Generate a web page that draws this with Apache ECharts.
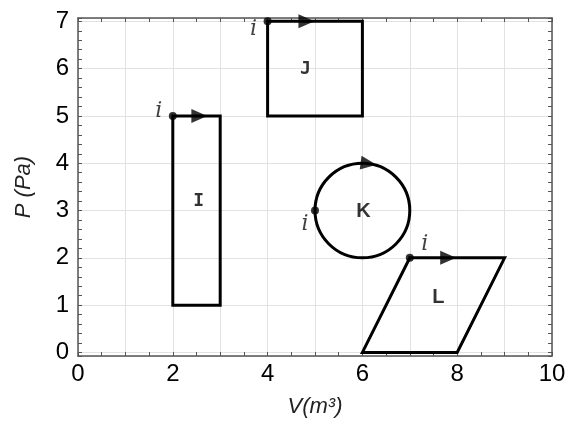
<!DOCTYPE html>
<html>
<head>
<meta charset="utf-8">
<script src="https://cdn.jsdelivr.net/npm/echarts@6/dist/echarts.min.js"></script>
<style>
  html, body { margin: 0; padding: 0; background: #fff; }
  #chart { width: 569px; height: 423px; }
</style>
</head>
<body>
<div id="chart"></div>
<script>
// cycle outlines (V, P), each one closed back to its start
const cycleI = [[2, 5], [3, 5], [3, 1], [2, 1], [2, 5]]
const cycleJ = [[4, 7], [6, 7], [6, 5], [4, 5], [4, 7]]
const cycleL = [[7, 2], [9, 2], [8, 0], [6, 0], [7, 2]]
// circle K: centre V, centre P, radius
const cycleK = [[6, 3, 1]]

// initial states "i"
const startPoints = [[2, 5], [4, 7], [5, 3], [7, 2]]
// direction arrows on each cycle
const arrowPoints = [[2.56, 5], [4.82, 7], [6.13, 3.99], [7.81, 2]]
// cycle names and where they sit
const cycleNames = ['I', 'J', 'K', 'L']
const namePoints = [[2.545, 3.19], [4.8, 5.98], [6.02, 2.99], [7.6, 1.16]]

const xLabels = [0, 2, 4, 6, 8, 10]
const yLabels = [0, 1, 2, 3, 4, 5, 6, 7]

const axisColor = '#555'
const iOffsets = [[-14, -5], [-14, 8], [-10, 14], [15, -14]]
const arrowAngles = [-90, -90, -97.5, -90]
const nameFonts = [
  { fontFamily: 'DejaVu Sans Mono', fontSize: 18 },
  { fontFamily: 'DejaVu Sans Mono', fontSize: 18 },
  { fontFamily: 'Liberation Sans', fontSize: 20 },
  { fontFamily: 'Liberation Sans', fontSize: 20 }
]

const chart = echarts.init(document.getElementById('chart'))

function frameAxis(extra) {
  return Object.assign({
    type: 'value',
    axisLine: { show: true, onZero: false, lineStyle: { color: axisColor, width: 1.5 } },
    axisTick: { show: true, inside: true, length: 4, lineStyle: { color: axisColor } },
    minorTick: { show: true, length: 4, lineStyle: { color: axisColor } },
    splitLine: { show: false },
    axisLabel: { show: false }
  }, extra)
}

const tickFont = { fontFamily: 'Liberation Sans', fontSize: 24, color: '#000' }

function outline(data) {
  return {
    type: 'line', data, symbol: 'none', silent: true, z: 3,
    lineStyle: { color: '#000', width: 3, join: 'miter', cap: 'square' }
  }
}

const option = {
  animation: false,
  grid: { left: 78, right: 17, top: 18, bottom: 65 },
  xAxis: [
    frameAxis({
      position: 'bottom', min: 0, max: 10, interval: 1,
      minorTick: { show: true, splitNumber: 2, length: 4, lineStyle: { color: axisColor } },
      splitLine: { show: true, lineStyle: { color: '#e2e2e2', width: 1 } },
      axisLabel: Object.assign({
        show: true, margin: 6,
        formatter: v => xLabels.includes(v) ? String(v) : ''
      }, tickFont),
      name: 'V(m³)', nameLocation: 'middle', nameGap: 40,
      nameTextStyle: { fontFamily: 'Liberation Sans', fontStyle: 'italic', fontSize: 22, color: '#222' }
    }),
    frameAxis({
      position: 'top', min: 0, max: 10, interval: 1,
      minorTick: { show: true, splitNumber: 2, length: 4, lineStyle: { color: axisColor } }
    })
  ],
  yAxis: [
    frameAxis({
      position: 'left', min: -0.075, max: 7.07, splitNumber: 7,
      minorTick: { show: true, splitNumber: 5, length: 4, lineStyle: { color: axisColor } },
      splitLine: { show: true, lineStyle: { color: '#e2e2e2', width: 1 } },
      axisLabel: Object.assign({
        show: true, margin: 9,
        formatter: v => yLabels.includes(v) ? String(v) : ''
      }, tickFont),
      name: 'P (Pa)', nameLocation: 'middle', nameGap: 43,
      nameTextStyle: { fontFamily: 'Liberation Sans', fontStyle: 'italic', fontSize: 22, color: '#222' }
    }),
    frameAxis({
      position: 'right', min: -0.075, max: 7.07, splitNumber: 7,
      minorTick: { show: true, splitNumber: 5, length: 4, lineStyle: { color: axisColor } }
    })
  ],
  series: [
    outline(cycleI),
    outline(cycleJ),
    outline(cycleL),
    {
      type: 'custom', data: cycleK, silent: true, z: 3,
      encode: { x: 0, y: 1 },
      renderItem(params, api) {
        const c = api.coord([api.value(0), api.value(1)])
        const s = api.size([api.value(2), api.value(2)])
        return {
          type: 'ellipse',
          shape: { cx: c[0], cy: c[1], rx: s[0], ry: s[1] },
          style: { fill: 'none', stroke: '#000', lineWidth: 3 }
        }
      }
    },
    {
      type: 'scatter', silent: true, z: 5,
      symbol: 'circle', symbolSize: 8,
      itemStyle: { color: '#000' },
      data: startPoints.map((p, k) => ({
        value: p,
        label: { offset: iOffsets[k] }
      })),
      label: {
        show: true, position: 'inside', formatter: 'i',
        fontFamily: 'DejaVu Serif', fontStyle: 'italic', fontSize: 22, color: '#111'
      }
    },
    {
      type: 'scatter', silent: true, z: 5,
      symbol: 'triangle', symbolSize: [14, 16],
      itemStyle: { color: '#000' },
      data: arrowPoints.map((p, k) => ({ value: p, symbolRotate: arrowAngles[k] }))
    },
    {
      type: 'scatter', silent: true, z: 4,
      symbolSize: 1,
      itemStyle: { color: 'rgba(0,0,0,0)' },
      data: namePoints.map((p, k) => ({
        value: p, name: cycleNames[k],
        label: nameFonts[k]
      })),
      label: {
        show: true, position: 'inside', formatter: '{b}',
        fontWeight: 'bold', fontSize: 18, color: '#000'
      }
    }
  ]
}

chart.setOption(option)
</script>
</body>
</html>
